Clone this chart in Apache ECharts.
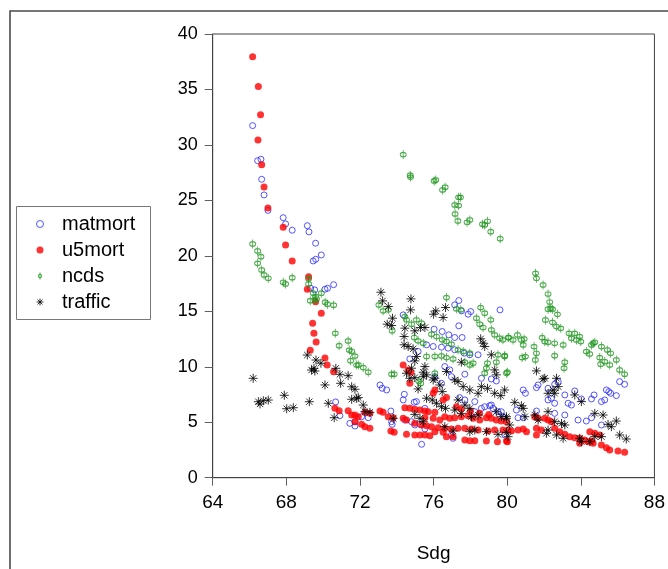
<!DOCTYPE html>
<html>
<head>
<meta charset="utf-8">
<script src="https://cdn.jsdelivr.net/npm/echarts@6/dist/echarts.min.js"></script>
<style>
html,body{margin:0;padding:0;background:#fff;}
#chart{width:668px;height:569px;}
</style>
</head>
<body>
<div id="chart"></div>
<script>
// ---- data (x = Sdg, y = value) ----
const seriesNames = ['matmort', 'u5mort', 'ncds', 'traffic'];
const xTicks = [64, 68, 72, 76, 80, 84, 88];
const yTicks = [0, 5, 10, 15, 20, 25, 30, 35, 40];

const matmort = [
[66.17,31.74],[66.44,28.58],[66.62,28.71],[66.66,26.9],[66.79,25.49],[67.0,24.1],[67.83,23.44],[67.96,22.88],[68.32,22.31],[69.14,22.72],[69.23,22.16],[69.59,21.14],[69.46,19.54],[69.6,19.69],[69.9,20.08],[69.32,17.08],[69.54,16.93],[70.1,16.99],[70.24,17.08],[70.57,17.4],[70.68,6.83],[70.91,5.59],[71.45,4.9],[71.73,4.66],
[77.37,15.97],[77.15,15.58],[77.52,15.04],[78.02,14.98],[77.88,14.74],[77.37,13.69],[79.61,15.13],[74.35,14.68],[76.03,13.39],[76.47,13.18],[76.83,12.88],[77.15,12.64],[77.55,12.64],[75.62,11.98],[75.98,11.83],[76.43,11.77],[76.79,11.68],[77.15,11.53],[77.66,11.23],[77.97,11.08],[78.42,11.08],[75.16,11.38],[74.71,10.71],[76.61,10.02],[76.88,9.72],[77.7,9.33],
[73.09,8.36],[73.21,8.06],[73.45,7.91],[74.41,7.52],[74.35,7.01],[74.95,6.8],[75.07,6.86],[75.53,6.25],[73.68,6.01],[71.73,5.05],[72.09,5.5],[72.45,5.41],[73.72,5.05],[73.75,4.81],[74.44,5.2],[74.8,5.05],[74.98,4.75],[75.26,4.81],[75.53,4.39],[75.35,3.01],[76.97,3.85],[77.06,3.55],[76.07,9.11],[76.43,8.51],[76.97,9.11],[78.6,8.96],[79.14,8.9],[79.41,8.72],[77.42,7.22],[77.7,7.01],[78.24,6.86],[78.6,6.25],[78.78,6.4],[79.05,6.49],[79.23,6.25],[79.5,5.95],[79.77,5.5],[79.14,6.55],[78.24,5.95],[79.68,5.95],
[80.87,7.91],[80.99,7.61],[81.59,8.12],[81.68,8.36],[82.22,8.06],[82.58,8.42],[82.77,8.66],[82.22,7.01],[82.4,7.16],[82.58,6.71],[83.13,7.46],[83.67,7.82],[84.03,7.1],[83.31,6.71],[83.49,6.55],[84.72,7.46],[84.58,7.1],[85.12,6.86],[85.3,7.01],[85.39,7.91],[85.52,7.76],[85.62,7.61],[85.93,7.4],[86.11,8.66],[86.38,8.42],[81.59,6.01],[80.5,6.1],[80.59,5.41],[80.87,5.41],[82.58,5.8],[83.13,5.65],[83.85,5.2],[84.3,5.11],[84.58,5.41],[85.12,4.75],[79.87,3.85]
];

const u5mort = [
[66.17,37.96],[66.48,35.26],[66.6,32.73],[66.46,30.45],[66.66,28.22],[66.79,26.21],[67.0,24.32],[67.83,22.58],[67.96,20.98],[68.32,19.54],[69.21,18.12],[69.14,16.99],[69.59,15.87],[69.9,14.82],[69.43,13.92],[69.5,13.02],[69.62,12.24],[69.3,11.49],[70.1,10.79],[70.22,10.16],[70.57,9.56],[70.64,6.26],[70.87,6.04],[71.36,6.04],[71.55,5.65],[71.73,5.05],
[74.35,10.17],[74.62,9.72],[74.77,9.51],
[74.71,8.51],[76.07,7.91],[75.98,7.61],[76.52,7.01],[76.7,7.22],[77.24,6.4],[74.44,6.31],[74.71,6.25],[74.98,6.16],[75.26,6.1],[75.53,6.01],[75.71,5.95],[76.07,5.89],[73.09,6.01],[73.26,5.89],[73.54,5.5],[73.81,5.41],[71.73,5.65],[71.91,5.5],[72.27,5.89],[72.54,5.8],[74.35,5.35],[74.53,5.2],[75.53,5.41],[75.98,5.35],[76.34,5.2],[76.61,5.5],[76.88,5.35],[77.15,5.41],[77.51,5.5],[77.88,5.59],[78.15,5.35],[78.51,5.2],[78.87,5.41],[79.14,5.35],[79.41,5.2],[79.68,5.11],[79.96,5.05],[72.09,4.81],[72.27,4.6],[72.54,4.45],[74.98,4.9],[75.35,4.75],[75.62,4.69],[75.89,4.6],[76.25,4.51],[76.61,4.45],[76.97,4.39],[77.33,4.45],[77.7,4.45],[78.06,4.39],[78.42,4.3],[78.96,4.21],[79.32,4.3],[79.77,4.3],[80.05,4.3],[73.68,4.21],[73.86,4.09],[74.53,3.91],[74.98,3.85],[75.26,3.85],[75.53,3.85],[75.8,3.79],[76.07,4.15],[76.52,4.09],[76.7,3.7],[77.06,3.7],[77.7,3.4],[77.97,3.34],[78.24,3.34],[78.87,3.31],[79.47,3.25],[79.96,3.31],[77.5,6.2],[78.0,6.0],[78.5,5.8],[79.0,5.7],
[81.5,5.5],[81.68,5.35],[82.04,5.35],[82.22,5.2],[82.4,5.05],[81.59,4.45],[81.86,4.3],[81.59,3.85],[80.23,4.21],[80.59,4.3],[80.87,4.39],[81.05,4.15],[82.58,4.45],[82.86,4.15],[83.13,3.91],[83.4,3.7],[83.67,3.61],[83.94,3.55],[84.21,3.4],[84.58,3.31],[84.49,4.15],[84.76,4.0],[85.03,3.85],[83.94,3.1],[84.4,3.25],[84.67,3.1],[85.12,2.95],[85.39,2.71],[85.57,2.5],[86.02,2.41],[86.38,2.29],[80.01,3.25]
];

const ncds = [
[66.17,21.07],[66.44,20.44],[66.62,19.93],[66.44,19.33],[66.66,18.73],[66.79,18.28],[67.02,17.98],[67.83,17.62],[67.96,17.47],[68.32,18.03],[69.21,17.94],[69.21,17.47],[69.46,16.63],[69.59,16.32],[69.9,16.63],[69.64,16.11],[69.3,15.96],[69.55,16.02],[70.11,15.82],[70.24,15.64],[70.57,15.55],[70.66,13.02],[70.87,11.9],[71.36,12.33],[71.42,11.51],[71.55,11.4],[71.73,10.97],[71.49,10.55],[71.82,10.16],
[74.35,29.13],[74.73,27.27],[74.75,27.1],[76.03,26.75],[76.12,26.84],[76.49,25.94],[76.63,26.19],[77.36,25.28],[77.46,25.28],[77.15,24.59],[77.36,24.53],[77.17,23.78],[77.32,23.15],[77.82,23.03],[77.97,23.24],[78.66,22.85],[78.78,22.79],[78.93,23.12],[79.11,22.18],[79.62,21.55],
[81.54,18.43],[81.59,17.98],[81.95,17.38],[82.22,16.56],[82.31,15.84],[82.37,15.27],[82.22,15.19],[82.46,15.19],[82.73,14.73],[82.08,14.22],[82.46,14.01],[82.68,13.62],[82.91,13.47],[83.36,13.02],[83.67,13.02],[83.94,12.72],[83.49,12.57],[83.76,12.42],[84.0,12.27],[84.67,12.12],[84.76,12.21],[84.58,11.97],[85.12,11.82],[85.44,11.52],[85.62,11.22],[85.93,10.62],[86.11,9.72],[86.38,9.33],[85.03,10.83],[85.3,10.47],[85.57,10.17],[85.08,10.23],[84.3,11.37],[84.48,11.16],[80.09,12.63],[80.32,12.42],[80.56,12.87],[80.77,12.42],[80.92,12.51],[80.87,11.97],[81.9,12.63],[82.04,12.27],[82.22,12.21],[82.58,12.12],[83.04,11.97],[81.46,11.82],[81.59,11.22],[81.53,10.62],[82.58,11.0],[83.13,10.41],[83.09,9.87],[80.81,10.83],[80.99,10.92],[79.87,11.01],[80.01,9.51],
[76.7,16.24],[73.03,15.58],[73.54,15.13],[73.26,15.04],[77.24,15.22],[77.48,15.13],[78.56,15.34],[78.78,14.83],[79.11,14.23],[74.44,14.53],[74.53,14.23],[75.07,14.23],[75.35,13.93],[74.8,13.84],[78.33,14.38],[78.51,13.84],[78.69,13.54],[73.75,13.24],[75.89,12.94],[76.16,12.73],[76.47,12.43],[76.7,12.28],[76.97,12.04],[74.95,12.64],[75.16,12.34],[75.44,12.13],[79.14,13.33],[79.32,12.88],[79.59,12.58],[79.77,12.43],[80.05,12.64],[77.33,11.53],[77.61,11.38],[77.97,11.23],[75.62,10.93],[76.07,10.93],[76.43,10.98],[76.7,10.83],[77.06,10.71],[77.7,10.41],[77.97,10.17],[78.15,10.32],[79.5,11.08],[79.86,10.93],[78.93,10.32],[79.41,10.41],[71.91,10.17],[72.18,9.93],[72.45,9.51],[73.72,9.33],[73.86,9.33],[78.87,9.87],[78.78,9.42],[76.07,9.42],[79.96,9.42],[75.2,8.7],[75.3,8.5]
];

const traffic = [
[66.2,8.96],[66.48,6.85],[66.75,6.94],[67.02,7.0],[66.57,6.65],[67.89,7.43],[68.02,6.22],[68.38,6.31],[69.25,6.85],[70.28,6.71],[70.6,5.41],[69.14,11.06],[69.61,10.61],[69.88,10.32],[69.37,9.71],[69.55,9.62],[69.5,9.86],[70.1,8.36],[70.69,9.86],[70.91,9.32],[71.36,9.2],[70.95,8.51],[71.55,8.2],[71.73,7.97],[71.55,7.07],[71.82,7.16],
[73.14,16.72],[73.23,15.94],[73.54,15.43],[74.77,16.12],[74.75,15.13],[73.77,14.38],[73.48,13.84],[73.72,13.72],[76.12,15.04],[76.65,15.34],[76.0,14.74],[76.52,14.44],[74.44,13.48],[75.29,13.54],[75.53,13.54],[74.98,13.24],[74.4,12.73],[74.4,11.98],[74.62,11.83],[74.89,11.62],[75.07,10.93],[74.98,10.53],[74.8,9.87],[75.53,10.02],[75.62,9.27],[75.44,9.51],[78.56,12.52],[78.69,12.13],[78.78,11.83],[79.14,11.08],[77.51,10.41],[79.32,9.72],[79.41,9.27],[74.53,9.42],[76.07,8.97],[76.7,9.57],
[71.91,7.22],[72.18,6.55],[72.27,5.95],[72.54,5.89],[74.71,8.96],[74.98,9.02],[75.16,8.0],[75.62,7.16],[75.93,7.01],[76.16,6.71],[76.43,6.4],[76.65,6.25],[75.44,9.11],[75.98,8.81],[76.34,8.36],[76.47,7.76],[77.15,8.81],[77.33,8.66],[77.61,8.21],[77.97,7.91],[78.42,7.61],[78.6,8.21],[78.93,8.06],[79.32,7.61],[79.65,7.4],[79.86,7.91],[77.33,7.01],[77.7,6.55],[77.97,6.25],[77.15,6.1],[77.51,5.8],[78.06,5.5],[78.42,5.65],[73.81,5.35],[75.26,5.35],[75.44,5.05],[74.98,5.71],[76.61,4.6],[77.06,4.21],[77.97,4.15],[78.24,4.3],[78.87,4.15],[79.5,3.91],[79.96,4.09],[79.41,5.95],[79.68,5.5],[79.96,5.35],
[81.59,9.63],[82.04,8.96],[82.68,8.96],
[81.95,8.9],[82.77,8.21],[82.49,7.91],[82.22,7.61],[82.58,7.61],[83.67,7.46],[84.03,6.86],[80.41,6.79],[80.77,6.49],[80.87,6.25],[79.96,5.5],[80.96,5.5],[81.5,5.65],[81.68,5.2],[82.22,5.95],[82.58,5.05],[82.95,4.9],[83.13,4.75],[84.76,5.8],[85.21,5.65],[85.48,4.81],[85.66,4.6],[85.93,5.11],[86.11,3.85],[86.47,3.49],[80.14,4.75],[80.05,3.7],[82.22,4.3],[82.13,4.0],[82.68,3.85],[83.04,3.55],[84.03,3.25],[84.49,3.25],[84.76,3.7],[85.12,3.7],[83.94,3.55]
];

// ---- chart ----
const FONT = 'Liberation Sans, Arial, sans-serif';
const PHI = 'path://M5,0 L5,12 M2,6 A3,3 0 1,1 8,6 A3,3 0 1,1 2,6 Z';
const STAR = 'path://M0,5 L10,5 M5,0 L5,10 M1.5,1.5 L8.5,8.5 M8.5,1.5 L1.5,8.5';

const styles = {
  matmort: {symbol: 'circle', size: 6, item: {color: 'rgba(0,0,0,0)', borderColor: '#2a2aff', borderWidth: 1}},
  u5mort:  {symbol: 'circle', size: 7, item: {color: '#ff0000', borderWidth: 0}},
  ncds:    {symbol: PHI, size: [6, 9], item: {color: 'rgba(0,0,0,0)', borderColor: '#1e961e', borderWidth: 1}},
  traffic: {symbol: STAR, size: 9, item: {color: 'rgba(0,0,0,0)', borderColor: '#000000', borderWidth: 1}}
};
const dataMap = {matmort, u5mort, ncds, traffic};

const chart = echarts.init(document.getElementById('chart'), null, {renderer: 'canvas'});
chart.setOption({
  animation: false,
  backgroundColor: '#ffffff',
  graphic: [
    {type: 'rect', silent: true, z: 0, shape: {x: 10, y: 11, width: 700, height: 600},
     style: {fill: 'none', stroke: '#4a4a4a', lineWidth: 1.6}},
    {type: 'rect', silent: true, z: 0, shape: {x: 16.5, y: 206.5, width: 134, height: 113},
     style: {fill: '#ffffff', stroke: '#777777', lineWidth: 1}}
  ],
  grid: {left: 212.7, top: 34, right: 12.5, bottom: 91.3, show: true,
         borderColor: '#404040', borderWidth: 1, backgroundColor: 'rgba(0,0,0,0)'},
  legend: {
    orient: 'vertical', left: 36, top: 214, padding: 0,
    itemWidth: 34, itemHeight: 7, itemGap: 6,
    textStyle: {fontFamily: FONT, fontSize: 20, color: '#000', lineHeight: 20},
    selectedMode: false,
    data: seriesNames.map(n => ({name: n, icon: styles[n].symbol, itemStyle: styles[n].item}))
  },
  xAxis: {
    type: 'value', min: xTicks[0], max: xTicks[xTicks.length - 1], interval: 4,
    axisLine: {show: true, onZero: false, lineStyle: {color: '#404040', width: 1}},
    axisTick: {show: true, length: 8, lineStyle: {color: '#606060'}},
    axisLabel: {color: '#000', fontSize: 19, fontFamily: FONT, margin: 16},
    splitLine: {show: false},
    name: 'Sdg', nameLocation: 'middle', nameGap: 67,
    nameTextStyle: {color: '#000', fontSize: 19, fontFamily: FONT}
  },
  yAxis: {
    type: 'value', min: yTicks[0], max: yTicks[yTicks.length - 1], interval: 5,
    axisLine: {show: true, onZero: false, lineStyle: {color: '#404040', width: 1}},
    axisTick: {show: true, length: 8, lineStyle: {color: '#606060'}},
    axisLabel: {color: '#000', fontSize: 18, fontFamily: FONT, margin: 15},
    splitLine: {show: false}
  },
  series: seriesNames.map((n, i) => ({
    name: n, type: 'scatter', data: dataMap[n],
    symbol: styles[n].symbol, symbolSize: styles[n].size,
    itemStyle: styles[n].item, z: 2 + i,
    emphasis: {disabled: true}
  }))
});
</script>
</body>
</html>
